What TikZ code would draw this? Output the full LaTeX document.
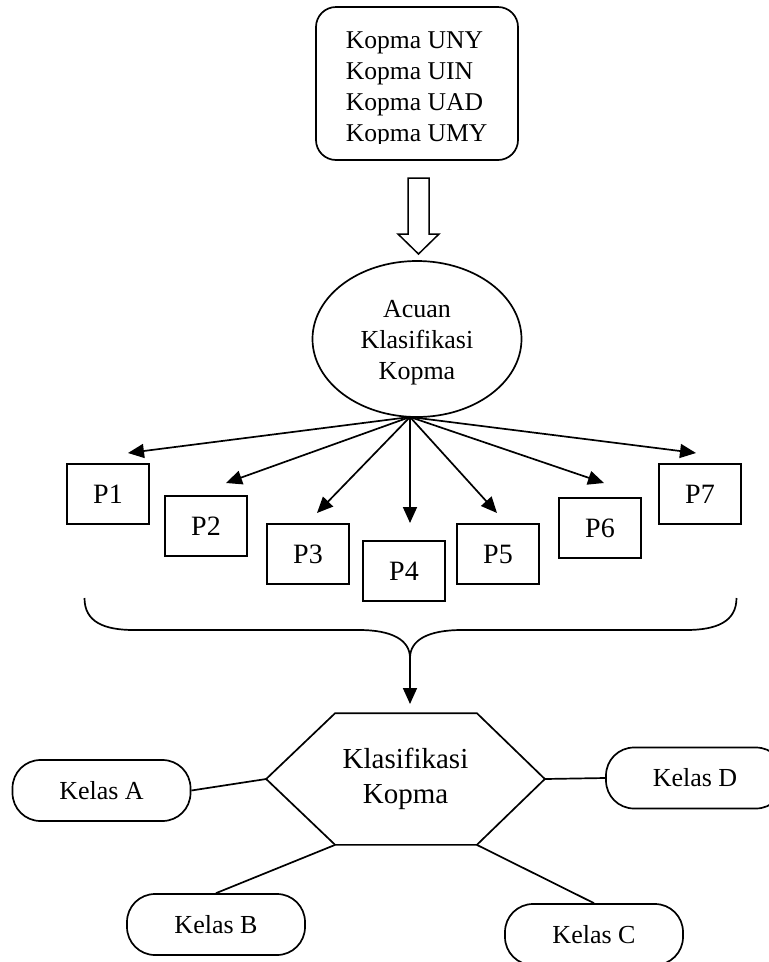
\documentclass[tikz,border=0pt]{standalone}
\usepackage{fontspec}
\setmainfont{Liberation Serif}
\usetikzlibrary{arrows.meta,shapes.geometric}
\begin{document}
\begin{tikzpicture}[x=1pt,y=-1pt,line width=1.7pt,
  srcbox/.style={draw,rounded corners=20pt,minimum width=202pt,minimum height=153pt,inner sep=0pt},
  pbox/.style={draw,minimum width=82pt,minimum height=60pt,inner sep=0pt,font=\fontsize{28}{32}\selectfont},
  kelas/.style={draw,rounded corners=28pt,minimum width=178pt,minimum height=61pt,inner sep=0pt,font=\fontsize{26}{30}\selectfont},
  arr/.style={-{Triangle[length=16pt,width=14pt]}},
]
\useasboundingbox (0,0) rectangle (769,962);
\clip (0,0) rectangle (769,962);

% source box
\node[srcbox] (src) at (417,83.5) {};
\begin{scope}
\clip (316,7) rectangle (518,143);
\node[anchor=west,inner sep=0pt,align=left,font=\fontsize{25.6}{31}\selectfont] (srctext) at (345,89)
  {Kopma UNY\\Kopma UIN\\Kopma UAD\\Kopma UMY};
\end{scope}

% hollow arrow
\draw[line width=1.5pt] (408,178) -- (429,178) -- (429,234) -- (439,234) -- (418.5,254)
  -- (398,234) -- (408,234) -- cycle;

% ellipse
\node[draw,ellipse,minimum width=209pt,minimum height=156pt,inner sep=0pt] (acuan) at (417,339) {};
\node[align=center,inner sep=0pt,font=\fontsize{26}{31}\selectfont] (acuantext) at (417,343)
  {Acuan\\Klasifikasi\\Kopma};
\coordinate (hub) at (410,417);

% P boxes
\node[pbox] (p1) at (108,494) {P1};
\node[pbox] (p2) at (206,526) {P2};
\node[pbox] (p3) at (308,554) {P3};
\node[pbox] (p4) at (404,571) {P4};
\node[pbox] (p5) at (498,554) {P5};
\node[pbox] (p6) at (600,528) {P6};
\node[pbox] (p7) at (700,494) {P7};

\coordinate (t1) at (128,453);
\coordinate (t2) at (226,483);
\coordinate (t3) at (317,513);
\coordinate (t4) at (410,523);
\coordinate (t5) at (497,513);
\coordinate (t6) at (604,483);
\coordinate (t7) at (696,453);
\foreach \i in {1,...,7} {\draw[arr] (hub) -- (t\i);}

% brace
\coordinate (cusp) at (410,658);
\draw (84.5,598) .. controls (84.5,622) and (104,630) .. (134,630) -- (359,630)
  .. controls (392,630) and (410,640) .. (cusp)
  .. controls (410,640) and (428,630) .. (462,630) -- (686,630)
  .. controls (716,630) and (736.5,622) .. (736.5,598);
\coordinate (hexin) at (410,704);
\draw[arr] (cusp) -- (hexin);

% hexagon
\node[minimum width=277pt,minimum height=130pt,inner sep=0pt,align=center,
  font=\fontsize{29}{35}\selectfont] (klas) at (405.5,779) {Klasifikasi\\Kopma};
\coordinate (htl) at ([xshift=69pt]klas.north west);
\coordinate (htr) at ([xshift=-68pt]klas.north east);
\coordinate (hbl) at ([xshift=69pt]klas.south west);
\coordinate (hbr) at ([xshift=-68pt]klas.south east);
\draw (htl) -- (htr) -- (klas.east) -- (hbr) -- (hbl) -- (klas.west) -- cycle;

% classes
\node[kelas] (ka) at (101.5,790.5) {Kelas A};
\node[kelas] (kb) at (216,924.5) {Kelas B};
\node[kelas] (kc) at (594,934.5) {Kelas C};
\node[kelas] (kd) at (695,778) {Kelas D};

\draw (ka.east) -- (klas.west);
\draw (klas.east) -- (kd.west);
\draw (kb.north) -- (hbl);
\draw (hbr) -- (kc.north);
\end{tikzpicture}
\end{document}
